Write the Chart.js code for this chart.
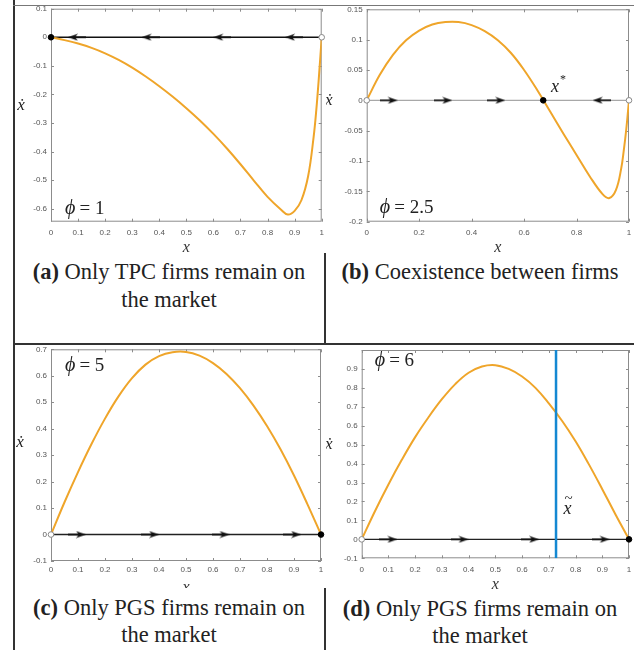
<!DOCTYPE html>
<html>
<head>
<meta charset="utf-8">
<script src="https://cdn.jsdelivr.net/npm/chart.js@4.4.1/dist/chart.umd.min.js"></script>
<style>
  body { margin: 0; background: #fff; width: 634px; height: 650px; overflow: hidden; position: relative; }
  canvas { position: absolute; }
  .cap { position: absolute; background: #fff; text-align: center; font-family: "Liberation Serif", serif; font-size: 22.5px; color: #222; white-space: nowrap; }
  .cap b { font-weight: bold; }
  .ln { position: absolute; background: #333; z-index: 5; }
</style>
</head>
<body>
<canvas id="ca" width="316" height="261" style="left:14px;top:0px"></canvas>
<canvas id="cb" width="308" height="261" style="left:326px;top:0px"></canvas>
<canvas id="cc" width="312" height="256" style="left:14px;top:344px"></canvas>
<canvas id="cd" width="308" height="255" style="left:326px;top:345px"></canvas>

<div class="cap" style="left:14px;top:258px;width:310px;line-height:28px;height:80px"><b>(a)</b> Only TPC firms remain on<br>the market</div>
<div class="cap" style="left:326px;top:258px;width:308px;line-height:28px;height:80px"><b>(b)</b> Coexistence between firms</div>
<div class="cap" style="left:14px;top:588px;width:310px;line-height:27px;padding-top:6px;height:56px"><b>(c)</b> Only PGS firms remain on<br>the market</div>
<div class="cap" style="left:326px;top:595px;width:308px;line-height:27px;height:55px"><b>(d)</b> Only PGS firms remain on<br>the market</div>

<div class="ln" style="left:13px;top:0;width:1.5px;height:650px"></div>
<div class="ln" style="left:13px;top:5px;width:621px;height:1px;background:#777"></div>
<div class="ln" style="left:324px;top:253px;width:1.5px;height:91px"></div>
<div class="ln" style="left:13px;top:342.5px;width:621px;height:2px"></div>
<div class="ln" style="left:324px;top:588px;width:1.5px;height:62px"></div>

<script>
// x grid shared by (c) and (d)
const xGrid = [0, 0.05, 0.1, 0.15, 0.2, 0.25, 0.3, 0.35, 0.4, 0.45, 0.5, 0.55, 0.6, 0.65, 0.7, 0.75, 0.8, 0.85, 0.9, 0.95, 1];

// (a) phi = 1
const xA = [0, 0.05, 0.1, 0.15, 0.2, 0.25, 0.3, 0.35, 0.4, 0.45, 0.5, 0.55, 0.6, 0.65, 0.7, 0.75, 0.8, 0.85, 0.875, 0.9, 0.925, 0.95, 0.97, 0.98, 0.99, 1];
const yA = [0, -0.01, -0.022, -0.037, -0.056, -0.079, -0.106, -0.137, -0.171, -0.208, -0.248, -0.291, -0.338, -0.389, -0.444, -0.502, -0.558, -0.603, -0.62, -0.607, -0.57, -0.485, -0.35, -0.255, -0.135, 0];

// (b) phi = 2.5
const xB = [0, 0.05, 0.1, 0.15, 0.2, 0.25, 0.3, 0.35, 0.4, 0.45, 0.5, 0.55, 0.6, 0.65, 0.7, 0.75, 0.8, 0.85, 0.9, 0.925, 0.95, 0.97, 0.98, 0.99, 1];
const yB = [0, 0.042, 0.075, 0.099, 0.115, 0.125, 0.129, 0.129, 0.124, 0.114, 0.099, 0.078, 0.05, 0.017, -0.019, -0.055, -0.09, -0.125, -0.155, -0.161, -0.148, -0.113, -0.083, -0.046, 0];

// (c) phi = 5
const yC = [0, 0.122, 0.236, 0.342, 0.438, 0.522, 0.591, 0.642, 0.674, 0.689, 0.69, 0.676, 0.648, 0.607, 0.553, 0.487, 0.41, 0.322, 0.223, 0.114, 0];

// (d) phi = 6
const yD = [0, 0.15, 0.29, 0.42, 0.54, 0.645, 0.74, 0.82, 0.88, 0.913, 0.92, 0.9, 0.86, 0.8, 0.718, 0.625, 0.518, 0.396, 0.265, 0.13, 0];

// flow arrows on the x axis
const arrowsA = { right: [], left: [0.096, 0.368, 0.633, 0.898] };
const arrowsB = { right: [0.084, 0.292, 0.494], left: [0.896] };
const arrowsC = { right: [0.096, 0.367, 0.628, 0.893], left: [] };
const arrowsD = { right: [0.1, 0.366, 0.63, 0.894], left: [] };

// equilibria: stable (filled) and unstable (open)
const stableA = [0],    unstableA = [1];
const stableB = [0.673], unstableB = [0, 1];
const stableC = [1],    unstableC = [0];
const stableD = [1],    unstableD = [0];

const xTilde = 0.727;

const ORANGE = '#EFA52A';
const BLUE = '#1488D2';

function arrowImg() {
  const c = document.createElement('canvas');
  c.width = 18; c.height = 8;
  const g = c.getContext('2d');
  g.strokeStyle = '#111'; g.lineWidth = 1.6;
  g.beginPath(); g.moveTo(0, 4); g.lineTo(11, 4); g.stroke();
  g.fillStyle = '#111';
  g.beginPath(); g.moveTo(18, 4); g.lineTo(8, 0.5); g.lineTo(11, 4); g.lineTo(8, 7.5); g.closePath(); g.fill();
  return c;
}
const ARROW = arrowImg();

const pts = (xs, ys) => xs.map((x, i) => ({ x, y: ys ? ys[i] : 0 }));

// axes box with inward ticks, drawn under the data
const boxPlugin = {
  id: 'box',
  beforeDatasetsDraw(chart) {
    const { ctx, chartArea: a, scales: { x, y } } = chart;
    ctx.save();
    ctx.strokeStyle = '#8c8c8c';
    ctx.lineWidth = 1;
    ctx.strokeRect(a.left + 0.5, a.top + 0.5, a.width - 1, a.height - 1);
    ctx.beginPath();
    x.ticks.forEach(t => {
      const p = Math.round(x.getPixelForValue(t.value)) + 0.5;
      ctx.moveTo(p, a.bottom); ctx.lineTo(p, a.bottom - 3);
      ctx.moveTo(p, a.top); ctx.lineTo(p, a.top + 3);
    });
    y.ticks.forEach(t => {
      const p = Math.round(y.getPixelForValue(t.value)) + 0.5;
      ctx.moveTo(a.left, p); ctx.lineTo(a.left + 3, p);
      ctx.moveTo(a.right, p); ctx.lineTo(a.right - 3, p);
    });
    ctx.stroke();
    ctx.restore();
  },
  afterDraw(chart) {
    const { ctx, chartArea: a, scales: { x, y } } = chart;
    const o = chart.options.plugins.box;
    ctx.save();
    ctx.fillStyle = '#222';
    ctx.textBaseline = 'middle';
    // y label (xdot), upright
    ctx.textAlign = 'center';
    ctx.font = 'italic 17px "Liberation Serif", "DejaVu Serif", serif';
    ctx.fillText('\u1E8B', a.left + o.ydotDx, y.getPixelForValue(o.ydotY));
    // phi label
    let px = x.getPixelForValue(o.phi[0]);
    const py = y.getPixelForValue(o.phi[1]);
    ctx.textAlign = 'left';
    ctx.font = 'italic 20px "Liberation Serif", serif';
    ctx.fillText('\u03D5', px, py);
    px += ctx.measureText('\u03D5').width + 4;
    ctx.font = '19px "Liberation Serif", serif';
    ctx.fillText('= ' + o.phi[2], px, py);
    // x* / x tilde
    if (o.star) {
      const sx = x.getPixelForValue(o.star[0]), sy = y.getPixelForValue(o.star[1]);
      ctx.font = 'italic 18px "Liberation Serif", serif';
      ctx.fillText('x', sx, sy);
      const w = ctx.measureText('x').width;
      ctx.font = '12px "Liberation Serif", serif';
      ctx.fillText('*', sx + w + 1, sy - 7);
    }
    if (o.tilde) {
      const tx = x.getPixelForValue(o.tilde[0]), ty = y.getPixelForValue(o.tilde[1]);
      ctx.font = 'italic 18px "Liberation Serif", serif';
      ctx.fillText('x', tx, ty);
      const w = ctx.measureText('x').width;
      ctx.textAlign = 'center';
      ctx.font = '15px "Liberation Serif", serif';
      ctx.fillText('~', tx + w / 2 + 1, ty - 10);
    }
    ctx.restore();
  }
};

const fmt = hideAbove => v => (v > hideAbove + 1e-9 ? '' : String(+v.toFixed(2)));

function makePanel(p) {
  const datasets = [
    { data: pts(p.stable), showLine: false, pointRadius: 2.8, pointBackgroundColor: '#000', pointBorderColor: '#000', clip: false },
    { data: pts(p.unstable), showLine: false, pointRadius: 2.8, pointBackgroundColor: '#fff', pointBorderColor: '#888', pointBorderWidth: 1, clip: false },
    { data: pts(p.arrows.right), showLine: false, pointStyle: ARROW, pointRotation: 0 },
    { data: pts(p.arrows.left), showLine: false, pointStyle: ARROW, pointRotation: 180 },
  ];
  if (p.vline != null) {
    datasets.push({ data: [{ x: p.vline, y: p.yMin }, { x: p.vline, y: p.yMax }], borderColor: BLUE, borderWidth: 2.5, pointRadius: 0 });
  }
  datasets.push(
    { data: pts(p.xs, p.ys), borderColor: ORANGE, borderWidth: 2, pointRadius: 0, tension: 0.4 },
    { data: pts([0, 1]), borderColor: p.axisColor, borderWidth: 1.4, pointRadius: 0 }
  );

  new Chart(document.getElementById(p.id), {
    type: 'line',
    data: { datasets },
    plugins: [boxPlugin],
    options: {
      responsive: false,
      animation: false,
      events: [],
      layout: { padding: { top: p.padTop, right: p.padRight, left: 0, bottom: 0 } },
      plugins: {
        legend: { display: false },
        tooltip: { enabled: false },
        box: p.notes
      },
      scales: {
        x: {
          type: 'linear', min: 0, max: 1,
          afterFit: s => { s.height = p.xH; s.paddingLeft = 0; s.paddingRight = 0; },
          grid: { display: false, drawTicks: false },
          border: { display: false },
          ticks: { stepSize: p.xStep, autoSkip: false, maxRotation: 0, includeBounds: false, padding: p.xPad,
                   color: '#555', font: { family: '"Liberation Sans", Arial', size: 8 }, callback: fmt(9) },
          title: { display: true, text: 'x', color: '#333',
                   font: { family: '"Liberation Serif", serif', style: 'italic', size: 16 },
                   padding: { top: 0, bottom: p.tPad } }
        },
        y: {
          type: 'linear', min: p.yMin, max: p.yMax,
          afterFit: s => { s.width = p.yW; s.paddingTop = 0; s.paddingBottom = 0; },
          grid: { display: false, drawTicks: false },
          border: { display: false },
          ticks: { stepSize: p.yStep, autoSkip: false, includeBounds: false, padding: 4,
                   color: '#555', font: { family: '"Liberation Sans", Arial', size: 8 }, callback: fmt(p.hideAbove) }
        }
      }
    }
  });
}

makePanel({ id: 'ca', xs: xA, ys: yA, arrows: arrowsA, stable: stableA, unstable: unstableA, axisColor: '#111',
  yMin: -0.645, yMax: 0.1, yStep: 0.1, xStep: 0.1, hideAbove: 9,
  padTop: 8.7, padRight: 8.3, yW: 37, xH: 39.3, xPad: 6.5, tPad: 3.4,
  notes: { ydotDx: -30, ydotY: -0.237, phi: [0.052, -0.6, '1'] } });

makePanel({ id: 'cb', xs: xB, ys: yB, arrows: arrowsB, stable: stableB, unstable: unstableB, axisColor: '#a8a8a8',
  yMin: -0.2, yMax: 0.15, yStep: 0.05, xStep: 0.2, hideAbove: 9,
  padTop: 9.3, padRight: 2.3, yW: 40.7, xH: 39.3, xPad: 6.5, tPad: 3.4,
  notes: { ydotDx: -38, ydotY: 0, phi: [0.05, -0.177, '2.5'], star: [0.703, 0.022] } });

makePanel({ id: 'cc', xs: xGrid, ys: yC, arrows: arrowsC, stable: stableC, unstable: unstableC, axisColor: '#222',
  yMin: -0.1, yMax: 0.7, yStep: 0.1, xStep: 0.1, hideAbove: 9,
  padTop: 5.3, padRight: 4.3, yW: 37, xH: 39, xPad: 4.2, tPad: 2.4,
  notes: { ydotDx: -31, ydotY: 0.346, phi: [0.052, 0.636, '5'] } });

makePanel({ id: 'cd', xs: xGrid, ys: yD, arrows: arrowsD, stable: stableD, unstable: unstableD, axisColor: '#222',
  yMin: -0.1, yMax: 1, yStep: 0.1, xStep: 0.1, hideAbove: 0.95, vline: xTilde,
  padTop: 0, padRight: 1, yW: 35.7, xH: 41.7, xPad: 6.2, tPad: 5.4,
  notes: { ydotDx: -33, ydotY: 0.5, phi: [0.049, 0.943, '6'], tilde: [0.755, 0.16] } });
</script>
</body>
</html>
